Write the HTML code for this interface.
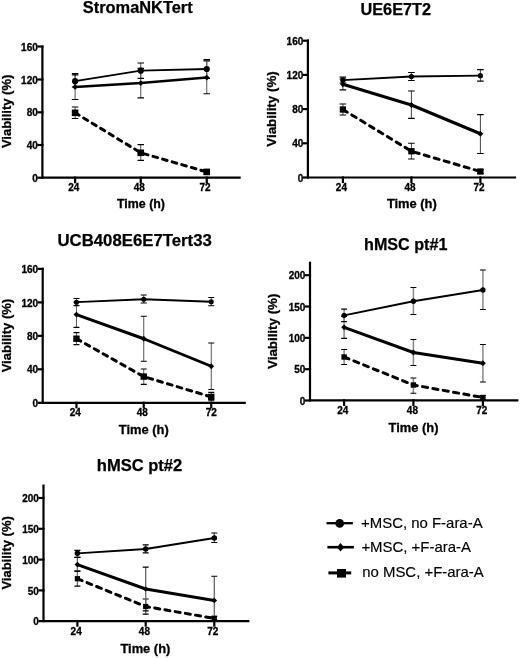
<!DOCTYPE html>
<html><head><meta charset="utf-8"><title>Viability</title><style>
html,body{margin:0;padding:0;background:#fff;}
body{width:520px;height:658px;overflow:hidden;}
svg{display:block;}
text{font-family:"Liberation Sans", Arial, Helvetica, sans-serif;fill:#000;}
.t{stroke:#000;stroke-width:0.25px;font-size:16px;font-weight:bold;text-anchor:middle;}
.yt{stroke:#000;stroke-width:0.3px;font-size:10px;font-weight:bold;text-anchor:end;}
.xt{stroke:#000;stroke-width:0.3px;font-size:10px;font-weight:bold;text-anchor:middle;}
.lab{stroke:#000;stroke-width:0.3px;font-size:12.9px;font-weight:bold;text-anchor:middle;}
.yl{font-size:13px;}
.leg{stroke:#000;stroke-width:0.15px;font-size:14.95px;}
.ax{stroke:#000;stroke-width:2.2;fill:none;stroke-linecap:square;}
.eb{stroke:#4a4a4a;stroke-width:1.0;fill:none;}
.cap{stroke:#000;stroke-width:1.2;fill:none;}
.lc{stroke:#000;stroke-width:1.85;fill:none;stroke-linejoin:round;}
.ld{stroke:#000;stroke-width:2.95;fill:none;stroke-linejoin:round;}
.ls{stroke:#000;fill:none;stroke-linecap:round;stroke-linejoin:round;}
</style></head>
<body><svg width="520" height="658" viewBox="0 0 520 658">
<rect width="520" height="658" fill="#fff"/>
<text x="137.75" y="12.7" class="t" style="font-size:16.4px">StromaNKTert</text>
<path d="M42.4 46.5V177.7H239.6" class="ax"/>
<path d="M38.4 46.5H42.4" class="ax"/>
<text x="37.8" y="50.6" class="yt">160</text>
<path d="M38.4 79.5H42.4" class="ax"/>
<text x="37.8" y="83.6" class="yt">120</text>
<path d="M38.4 112.3H42.4" class="ax"/>
<text x="37.8" y="116.4" class="yt">80</text>
<path d="M38.4 145H42.4" class="ax"/>
<text x="37.8" y="149.1" class="yt">40</text>
<path d="M38.4 177.7H42.4" class="ax"/>
<text x="37.8" y="181.8" class="yt">0</text>
<path d="M75.1 177.7V182.2" class="ax"/>
<text x="73.8" y="191.3" class="xt">24</text>
<path d="M140.75 177.7V182.2" class="ax"/>
<text x="139.25" y="191.3" class="xt">48</text>
<path d="M206.75 177.7V182.2" class="ax"/>
<text x="205.1" y="191.3" class="xt">72</text>
<text x="141" y="207.6" class="lab" style="font-size:12.4px">Time (h)</text>
<text transform="translate(11 111.4) rotate(-90)" class="lab yl" style="font-size:13px">Viability (%)</text>
<path d="M75.1 107V118.5" stroke="#555" stroke-width="1.0"/>
<path d="M71.85 107H78.35M71.85 118.5H78.35" class="cap"/>
<path d="M140.75 144.7V160.4" stroke="#555" stroke-width="1.0"/>
<path d="M137.5 144.7H144M137.5 160.4H144" class="cap"/>
<path d="M206.75 169.5V174" stroke="#555" stroke-width="1.0"/>
<path d="M203.5 169.5H210M203.5 174H210" class="cap"/>
<path d="M75.1 73.7V99.5" stroke="#555" stroke-width="1.0"/>
<path d="M71.85 73.7H78.35M71.85 99.5H78.35" class="cap"/>
<path d="M140.75 68.3V97.9" stroke="#555" stroke-width="1.0"/>
<path d="M137.5 68.3H144M137.5 97.9H144" class="cap"/>
<path d="M206.75 60.9V93.75" stroke="#555" stroke-width="1.0"/>
<path d="M203.5 60.9H210M203.5 93.75H210" class="cap"/>
<path d="M75.1 74.9V87" stroke="#555" stroke-width="1.0"/>
<path d="M71.85 74.9H78.35M71.85 87H78.35" class="cap"/>
<path d="M140.75 63V78.4" stroke="#555" stroke-width="1.0"/>
<path d="M137.5 63H144M137.5 78.4H144" class="cap"/>
<path d="M206.75 59.6V78.4" stroke="#555" stroke-width="1.0"/>
<path d="M203.5 59.6H210M203.5 78.4H210" class="cap"/>
<polyline points="75.1,112.8 140.75,152.8 206.75,171.9" class="ls" style="stroke-width:3px;stroke-dasharray:4.77 5.19"/>
<polyline points="75.1,86.9 140.75,83.1 206.75,77.6" class="ld" style="stroke-width:2.5px"/>
<polyline points="75.1,81.2 140.75,70.7 206.75,69" class="lc"/>
<rect x="71.8" y="109.5" width="6.6" height="6.6"/>
<rect x="137.45" y="149.5" width="6.6" height="6.6"/>
<rect x="203.45" y="168.6" width="6.6" height="6.6"/>
<path d="M75.1 84L78 86.9L75.1 89.8L72.2 86.9Z"/>
<path d="M140.75 80.2L143.65 83.1L140.75 86L137.85 83.1Z"/>
<path d="M206.75 74.7L209.65 77.6L206.75 80.5L203.85 77.6Z"/>
<circle cx="75.1" cy="81.2" r="3.1"/>
<circle cx="140.75" cy="70.7" r="3.1"/>
<circle cx="206.75" cy="69" r="3.1"/>
<text x="395.8" y="14.9" class="t" style="font-size:16.3px">UE6E7T2</text>
<path d="M307.9 40.7V177.5H515" class="ax"/>
<path d="M303.9 40.7H307.9" class="ax"/>
<text x="303.3" y="44.8" class="yt">160</text>
<path d="M303.9 74.9H307.9" class="ax"/>
<text x="303.3" y="79" class="yt">120</text>
<path d="M303.9 109.1H307.9" class="ax"/>
<text x="303.3" y="113.2" class="yt">80</text>
<path d="M303.9 143.3H307.9" class="ax"/>
<text x="303.3" y="147.4" class="yt">40</text>
<path d="M303.9 177.5H307.9" class="ax"/>
<text x="303.3" y="181.6" class="yt">0</text>
<path d="M342.9 177.5V182" class="ax"/>
<text x="341.4" y="191.1" class="xt">24</text>
<path d="M411.4 177.5V182" class="ax"/>
<text x="410" y="191.1" class="xt">48</text>
<path d="M480.4 177.5V182" class="ax"/>
<text x="479" y="191.1" class="xt">72</text>
<text x="411.85" y="208.2" class="lab" style="font-size:12.9px">Time (h)</text>
<text transform="translate(275.8 109) rotate(-90)" class="lab yl" style="font-size:13.35px">Viability (%)</text>
<path d="M342.9 104V115" stroke="#444" stroke-width="1.0"/>
<path d="M339.6 104H346.2M339.6 115H346.2" class="cap"/>
<path d="M411.4 143.25V159" stroke="#444" stroke-width="1.0"/>
<path d="M408.1 143.25H414.7M408.1 159H414.7" class="cap"/>
<path d="M480.4 169.5V173.5" stroke="#444" stroke-width="1.0"/>
<path d="M477.1 169.5H483.7M477.1 173.5H483.7" class="cap"/>
<path d="M342.9 79V89.8" stroke="#444" stroke-width="1.0"/>
<path d="M339.6 79H346.2M339.6 89.8H346.2" class="cap"/>
<path d="M411.4 91V118.4" stroke="#444" stroke-width="1.0"/>
<path d="M408.1 91H414.7M408.1 118.4H414.7" class="cap"/>
<path d="M480.4 114.7V153.5" stroke="#444" stroke-width="1.0"/>
<path d="M477.1 114.7H483.7M477.1 153.5H483.7" class="cap"/>
<path d="M342.9 77.2V83" stroke="#444" stroke-width="1.0"/>
<path d="M339.6 77.2H346.2M339.6 83H346.2" class="cap"/>
<path d="M411.4 72.5V80.5" stroke="#444" stroke-width="1.0"/>
<path d="M408.1 72.5H414.7M408.1 80.5H414.7" class="cap"/>
<path d="M480.4 69.7V81.2" stroke="#444" stroke-width="1.0"/>
<path d="M477.1 69.7H483.7M477.1 81.2H483.7" class="cap"/>
<polyline points="342.9,109.5 411.4,151.25 480.4,171.5" class="ls" style="stroke-width:3px;stroke-dasharray:5.11 5.29"/>
<polyline points="342.9,84.3 411.4,105 480.4,133.8" class="ld" style="stroke-width:3.1px"/>
<polyline points="342.9,80.2 411.4,76.5 480.4,75.7" class="lc"/>
<rect x="339.75" y="106.35" width="6.3" height="6.3"/>
<rect x="408.25" y="148.1" width="6.3" height="6.3"/>
<rect x="477.25" y="168.35" width="6.3" height="6.3"/>
<path d="M342.9 81.4L345.8 84.3L342.9 87.2L340 84.3Z"/>
<path d="M411.4 102.1L414.3 105L411.4 107.9L408.5 105Z"/>
<path d="M480.4 130.9L483.3 133.8L480.4 136.7L477.5 133.8Z"/>
<circle cx="342.9" cy="80.2" r="2.6"/>
<circle cx="411.4" cy="76.5" r="2.6"/>
<circle cx="480.4" cy="75.7" r="2.6"/>
<text x="134.65" y="246.3" class="t" style="font-size:16.75px">UCB408E6E7Tert33</text>
<path d="M42.7 268.9V402.8H244.7" class="ax"/>
<path d="M38.7 268.9H42.7" class="ax"/>
<text x="38.1" y="273" class="yt">160</text>
<path d="M38.7 302.4H42.7" class="ax"/>
<text x="38.1" y="306.5" class="yt">120</text>
<path d="M38.7 335.85H42.7" class="ax"/>
<text x="38.1" y="339.95" class="yt">80</text>
<path d="M38.7 369.3H42.7" class="ax"/>
<text x="38.1" y="373.4" class="yt">40</text>
<path d="M38.7 402.8H42.7" class="ax"/>
<text x="38.1" y="406.9" class="yt">0</text>
<path d="M76.45 402.8V407.3" class="ax"/>
<text x="75.2" y="416.4" class="xt">24</text>
<path d="M143.75 402.8V407.3" class="ax"/>
<text x="142.25" y="416.4" class="xt">48</text>
<path d="M211.25 402.8V407.3" class="ax"/>
<text x="211.25" y="416.4" class="xt">72</text>
<text x="143.75" y="433.6" class="lab" style="font-size:12.9px">Time (h)</text>
<text transform="translate(11 335.6) rotate(-90)" class="lab yl" style="font-size:13px">Viability (%)</text>
<path d="M76.45 332.6V344.7" stroke="#555" stroke-width="1.0"/>
<path d="M73.45 332.6H79.45M73.45 344.7H79.45" class="cap"/>
<path d="M143.75 369V384.3" stroke="#555" stroke-width="1.0"/>
<path d="M140.75 369H146.75M140.75 384.3H146.75" class="cap"/>
<path d="M211.25 392.3V400.75" stroke="#555" stroke-width="1.0"/>
<path d="M208.25 392.3H214.25M208.25 400.75H214.25" class="cap"/>
<path d="M76.45 302V327.4" stroke="#555" stroke-width="1.0"/>
<path d="M73.45 302H79.45M73.45 327.4H79.45" class="cap"/>
<path d="M143.75 316.25V361.25" stroke="#555" stroke-width="1.0"/>
<path d="M140.75 316.25H146.75M140.75 361.25H146.75" class="cap"/>
<path d="M211.25 343V389.5" stroke="#555" stroke-width="1.0"/>
<path d="M208.25 343H214.25M208.25 389.5H214.25" class="cap"/>
<path d="M76.45 298.5V305.7" stroke="#555" stroke-width="1.0"/>
<path d="M73.45 298.5H79.45M73.45 305.7H79.45" class="cap"/>
<path d="M143.75 295V303" stroke="#555" stroke-width="1.0"/>
<path d="M140.75 295H146.75M140.75 303H146.75" class="cap"/>
<path d="M211.25 297.5V305.75" stroke="#555" stroke-width="1.0"/>
<path d="M208.25 297.5H214.25M208.25 305.75H214.25" class="cap"/>
<polyline points="76.45,338.7 143.75,376.6 211.25,396.9" class="ls" style="stroke-width:3px;stroke-dasharray:4.95 5.24"/>
<polyline points="76.45,314.6 143.75,338.75 211.25,366.25" class="ld" style="stroke-width:2.95px"/>
<polyline points="76.45,302.2 143.75,299.25 211.25,301.75" class="lc"/>
<rect x="73.25" y="335.5" width="6.4" height="6.4"/>
<rect x="140.55" y="373.4" width="6.4" height="6.4"/>
<rect x="208.05" y="393.7" width="6.4" height="6.4"/>
<path d="M76.45 311.7L79.35 314.6L76.45 317.5L73.55 314.6Z"/>
<path d="M143.75 335.85L146.65 338.75L143.75 341.65L140.85 338.75Z"/>
<path d="M211.25 363.35L214.15 366.25L211.25 369.15L208.35 366.25Z"/>
<circle cx="76.45" cy="302.2" r="2.55"/>
<circle cx="143.75" cy="299.25" r="2.55"/>
<circle cx="211.25" cy="301.75" r="2.55"/>
<text x="405.75" y="249.8" class="t" style="font-size:16.15px">hMSC pt#1</text>
<path d="M310 262.9V400.4H517.3" class="ax"/>
<path d="M306 275.2H310" class="ax"/>
<text x="305.4" y="279.3" class="yt">200</text>
<path d="M306 306.5H310" class="ax"/>
<text x="305.4" y="310.6" class="yt">150</text>
<path d="M306 337.85H310" class="ax"/>
<text x="305.4" y="341.95" class="yt">100</text>
<path d="M306 369.2H310" class="ax"/>
<text x="305.4" y="373.3" class="yt">50</text>
<path d="M306 400.5H310" class="ax"/>
<text x="305.4" y="404.6" class="yt">0</text>
<path d="M344.1 400.4V404.9" class="ax"/>
<text x="342.85" y="414" class="xt">24</text>
<path d="M413.4 400.4V404.9" class="ax"/>
<text x="412.4" y="414" class="xt">48</text>
<path d="M482.9 400.4V404.9" class="ax"/>
<text x="481.7" y="414" class="xt">72</text>
<text x="413.5" y="431.5" class="lab" style="font-size:12.9px">Time (h)</text>
<text transform="translate(276.8 331.3) rotate(-90)" class="lab yl" style="font-size:13.35px">Viability (%)</text>
<path d="M344.1 349.5V364.5" stroke="#888" stroke-width="1.5"/>
<path d="M341.15 349.5H347.05M341.15 364.5H347.05" class="cap"/>
<path d="M413.4 378V393.25" stroke="#888" stroke-width="1.5"/>
<path d="M410.45 378H416.35M410.45 393.25H416.35" class="cap"/>
<path d="M482.9 395.5V399.5" stroke="#888" stroke-width="1.5"/>
<path d="M479.95 395.5H485.85M479.95 399.5H485.85" class="cap"/>
<path d="M344.1 316.3V338.3" stroke="#888" stroke-width="1.5"/>
<path d="M341.15 316.3H347.05M341.15 338.3H347.05" class="cap"/>
<path d="M413.4 339.5V365.5" stroke="#888" stroke-width="1.5"/>
<path d="M410.45 339.5H416.35M410.45 365.5H416.35" class="cap"/>
<path d="M482.9 344.5V382" stroke="#888" stroke-width="1.5"/>
<path d="M479.95 344.5H485.85M479.95 382H485.85" class="cap"/>
<path d="M344.1 309.2V321.6" stroke="#888" stroke-width="1.5"/>
<path d="M341.15 309.2H347.05M341.15 321.6H347.05" class="cap"/>
<path d="M413.4 287.5V314.5" stroke="#888" stroke-width="1.5"/>
<path d="M410.45 287.5H416.35M410.45 314.5H416.35" class="cap"/>
<path d="M482.9 270V309.5" stroke="#888" stroke-width="1.5"/>
<path d="M479.95 270H485.85M479.95 309.5H485.85" class="cap"/>
<polyline points="344.1,357 413.4,385 482.9,397.5" class="ls" style="stroke-width:3px;stroke-dasharray:5.19 5.31"/>
<polyline points="344.1,327.3 413.4,352.5 482.9,363.25" class="ld" style="stroke-width:2.95px"/>
<polyline points="344.1,315.3 413.4,301.25 482.9,290" class="lc"/>
<rect x="341.4" y="354.3" width="5.4" height="5.4"/>
<rect x="410.7" y="382.3" width="5.4" height="5.4"/>
<rect x="480.2" y="394.8" width="5.4" height="5.4"/>
<path d="M344.1 324.4L347 327.3L344.1 330.2L341.2 327.3Z"/>
<path d="M413.4 349.6L416.3 352.5L413.4 355.4L410.5 352.5Z"/>
<path d="M482.9 360.35L485.8 363.25L482.9 366.15L480 363.25Z"/>
<circle cx="344.1" cy="315.3" r="2.65"/>
<circle cx="413.4" cy="301.25" r="2.65"/>
<circle cx="482.9" cy="290" r="2.65"/>
<text x="139.5" y="470.9" class="t" style="font-size:16.55px">hMSC pt#2</text>
<path d="M43.5 485.7V621.15H248.3" class="ax"/>
<path d="M39.5 498H43.5" class="ax"/>
<text x="38.9" y="502.1" class="yt">200</text>
<path d="M39.5 528.8H43.5" class="ax"/>
<text x="38.9" y="532.9" class="yt">150</text>
<path d="M39.5 559.6H43.5" class="ax"/>
<text x="38.9" y="563.7" class="yt">100</text>
<path d="M39.5 590.4H43.5" class="ax"/>
<text x="38.9" y="594.5" class="yt">50</text>
<path d="M39.5 621.1H43.5" class="ax"/>
<text x="38.9" y="625.2" class="yt">0</text>
<path d="M77.4 621.15V625.65" class="ax"/>
<text x="76.15" y="634.75" class="xt">24</text>
<path d="M145.7 621.15V625.65" class="ax"/>
<text x="144.4" y="634.75" class="xt">48</text>
<path d="M214.3 621.15V625.65" class="ax"/>
<text x="212.75" y="634.75" class="xt">72</text>
<text x="145.4" y="652.9" class="lab" style="font-size:12.9px">Time (h)</text>
<text transform="translate(11 552.9) rotate(-90)" class="lab yl" style="font-size:13px">Viability (%)</text>
<path d="M77.4 571.2V586.2" stroke="#666" stroke-width="1.3"/>
<path d="M74.4 571.2H80.4M74.4 586.2H80.4" class="cap"/>
<path d="M145.7 599V614.2" stroke="#666" stroke-width="1.3"/>
<path d="M142.7 599H148.7M142.7 614.2H148.7" class="cap"/>
<path d="M214.3 616.4V620.4" stroke="#666" stroke-width="1.3"/>
<path d="M211.3 616.4H217.3M211.3 620.4H217.3" class="cap"/>
<path d="M77.4 557.3V571.2" stroke="#666" stroke-width="1.3"/>
<path d="M74.4 557.3H80.4M74.4 571.2H80.4" class="cap"/>
<path d="M145.7 567.2V610.8" stroke="#666" stroke-width="1.3"/>
<path d="M142.7 567.2H148.7M142.7 610.8H148.7" class="cap"/>
<path d="M214.3 576.25V621" stroke="#666" stroke-width="1.3"/>
<path d="M211.3 576.25H217.3M211.3 621H217.3" class="cap"/>
<path d="M77.4 550.4V557.3" stroke="#666" stroke-width="1.3"/>
<path d="M74.4 550.4H80.4M74.4 557.3H80.4" class="cap"/>
<path d="M145.7 544.8V552.8" stroke="#666" stroke-width="1.3"/>
<path d="M142.7 544.8H148.7M142.7 552.8H148.7" class="cap"/>
<path d="M214.3 533V542.5" stroke="#666" stroke-width="1.3"/>
<path d="M211.3 533H217.3M211.3 542.5H217.3" class="cap"/>
<polyline points="77.4,578.7 145.7,606.5 214.3,618.4" class="ls" style="stroke-width:3px;stroke-dasharray:5.08 5.28"/>
<polyline points="77.4,564.6 145.7,589 214.3,600.5" class="ld" style="stroke-width:2.95px"/>
<polyline points="77.4,553.3 145.7,549 214.3,538" class="lc"/>
<rect x="74.8" y="576.1" width="5.2" height="5.2"/>
<rect x="143.1" y="603.9" width="5.2" height="5.2"/>
<rect x="211.7" y="615.8" width="5.2" height="5.2"/>
<path d="M77.4 561.8L80.2 564.6L77.4 567.4L74.6 564.6Z"/>
<path d="M145.7 586.2L148.5 589L145.7 591.8L142.9 589Z"/>
<path d="M214.3 597.7L217.1 600.5L214.3 603.3L211.5 600.5Z"/>
<circle cx="77.4" cy="553.3" r="2.75"/>
<circle cx="145.7" cy="549" r="2.75"/>
<circle cx="214.3" cy="538" r="2.75"/>
<path d="M326.5 523.2H352.9" stroke="#000" stroke-width="2.3" fill="none"/>
<circle cx="339.7" cy="523.4" r="4.3"/>
<text x="361" y="527.9" class="leg">+MSC, no F-ara-A</text>
<path d="M327.4 547.2H353.9" stroke="#000" stroke-width="2.6" fill="none"/>
<path d="M340.5 542.9L344 547.2L340.5 551.5L337 547.2Z"/>
<text x="361.4" y="551.5" class="leg">+MSC, +F-ara-A</text>
<path d="M328.4 572.9H351.2" stroke="#000" stroke-width="3" fill="none"/>
<rect x="337" y="569" width="9" height="8.6"/>
<text x="362.2" y="576.9" class="leg">no MSC, +F-ara-A</text>
</svg></body></html>
